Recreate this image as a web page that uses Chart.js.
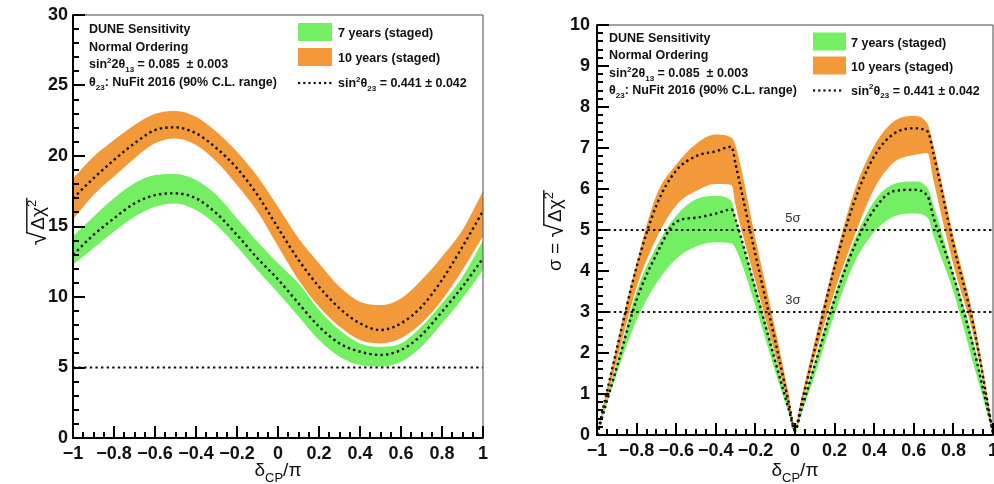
<!DOCTYPE html>
<html>
<head>
<meta charset="utf-8">
<script src="https://cdn.jsdelivr.net/npm/chart.js@4.4.0/dist/chart.umd.min.js"></script>
<style>
  html, body { margin: 0; padding: 0; background: #fff; }
  #wrap { position: relative; width: 994px; height: 484px; overflow: hidden; }
  canvas { position: absolute; top: 0; }
</style>
</head>
<body>
<div id="wrap">
  <canvas id="left-chart" width="497" height="484" style="left:0"></canvas>
  <canvas id="right-chart" width="497" height="484" style="left:497px"></canvas>
</div>
<script>
const chartInstances = {};

const FONT = '"Liberation Sans", Arial, Helvetica, sans-serif';
const GREEN = '#74ee62';
const ORANGE = '#f29a3a';
const DOTS = '#111111';

// ---- left panel: sqrt(dchi2) vs deltaCP/pi ----
const deltaLeft = [-1, -0.9, -0.8, -0.7, -0.6, -0.5, -0.4, -0.3, -0.2, -0.1, 0, 0.1, 0.2, 0.3, 0.4, 0.5, 0.6, 0.7, 0.8, 0.9, 1];
const left10High = [18.4, 19.95, 21.13, 22.2, 23.0, 23.2, 22.79, 21.72, 20.3, 18.54, 16.4, 14.16, 12.39, 10.73, 9.67, 9.43, 9.9, 11.21, 12.86, 14.75, 17.5];
const left10Mid  = [17.0, 18.42, 19.72, 20.9, 21.84, 22.03, 21.61, 20.55, 19.13, 17.23, 14.9, 12.63, 10.73, 9.2, 8.13, 7.66, 8.13, 9.31, 11.21, 13.57, 16.1];
const left10Low  = [15.5, 17.23, 18.54, 19.83, 20.9, 21.25, 20.78, 19.6, 17.94, 16.05, 13.6, 11.21, 9.31, 7.9, 6.95, 6.71, 7.07, 8.13, 9.79, 11.91, 14.3];
const left7High  = [14.3, 15.7, 17.0, 18.06, 18.65, 18.72, 18.3, 17.23, 15.58, 13.92, 12.4, 10.97, 9.08, 7.66, 6.71, 6.48, 6.71, 7.9, 9.55, 11.44, 14.0];
const left7Mid   = [13.0, 14.4, 15.58, 16.64, 17.23, 17.35, 17.0, 15.93, 14.4, 12.75, 11.25, 9.55, 7.9, 6.71, 6.12, 5.89, 6.24, 7.3, 8.96, 10.73, 12.74];
const left7Low   = [12.3, 13.46, 14.64, 15.7, 16.4, 16.64, 16.17, 15.1, 13.56, 11.9, 10.3, 8.61, 6.95, 5.77, 5.17, 5.06, 5.41, 6.48, 8.13, 9.9, 11.91];
const leftRefLines = [5];
const leftYTicks = [0, 5, 10, 15, 20, 25, 30];

// ---- right panel: sigma vs deltaCP/pi ----
const deltaRight = [-1, -0.9, -0.8, -0.7, -0.6, -0.5, -0.4, -0.32, -0.3, -0.2, -0.1, -0.03, 0, 0.03, 0.1, 0.2, 0.3, 0.4, 0.5, 0.6, 0.67, 0.7, 0.8, 0.9, 1];
const right10High = [0, 2.2, 4.2, 5.85, 6.6, 7.1, 7.33, 7.25, 7.05, 4.8, 2.6, 0.95, 0.2, 0.85, 2.3, 4.25, 5.95, 7.05, 7.65, 7.78, 7.58, 7.05, 4.85, 2.9, 0.15];
const right10Mid  = [0, 2.1, 4.1, 5.6, 6.45, 6.8, 6.92, 7.03, 6.6, 4.4, 2.3, 0.75, 0.12, 0.72, 2.1, 4.1, 5.7, 6.8, 7.35, 7.48, 7.4, 6.85, 4.65, 2.7, 0.05];
const right10Low  = [0, 1.8, 3.6, 4.8, 5.6, 5.95, 6.12, 6.1, 5.6, 3.75, 1.95, 0.65, 0.1, 0.65, 1.9, 3.5, 4.85, 6.0, 6.65, 6.83, 6.87, 6.2, 4.15, 2.45, 0.05];
const right7High  = [0, 1.75, 3.5, 4.6, 5.35, 5.75, 5.83, 5.7, 5.3, 3.65, 1.9, 0.65, 0.1, 0.62, 1.8, 3.4, 4.75, 5.7, 6.12, 6.18, 6.02, 5.6, 3.95, 2.3, 0.05];
const right7Mid   = [0, 1.65, 3.3, 4.4, 5.2, 5.3, 5.4, 5.5, 5.25, 3.55, 1.8, 0.6, 0.1, 0.58, 1.7, 3.3, 4.6, 5.5, 5.95, 5.98, 5.82, 5.3, 3.88, 2.15, 0.05];
const right7Low   = [0, 1.5, 2.8, 3.7, 4.3, 4.6, 4.7, 4.67, 4.55, 3.15, 1.55, 0.5, 0.05, 0.48, 1.45, 2.95, 4.2, 4.95, 5.33, 5.4, 5.3, 4.85, 3.5, 1.75, 0.03];
const rightRefLines = [3, 5];
const rightRefLabels = ['3\u03c3', '5\u03c3'];
const rightYTicks = [0, 1, 2, 3, 4, 5, 6, 7, 8, 9, 10];

const xTicks = [-1, -0.8, -0.6, -0.4, -0.2, 0, 0.2, 0.4, 0.6, 0.8, 1];

const legendLabels = ['7 years (staged)', '10 years (staged)'];
const infoLines = [
  [['DUNE Sensitivity']],
  [['Normal Ordering']],
  [['sin'], ['2', 'sup'], ['2\u03b8'], ['13', 'sub'], [' = 0.085  \u00b1 0.003']],
  [['\u03b8'], ['23', 'sub'], [': NuFit 2016 (90% C.L. range)']],
];
const dotLegend = [['sin'], ['2', 'sup'], ['\u03b8'], ['23', 'sub'], [' = 0.441 \u00b1 0.042']];

function fmtTick(v) {
  const r = Math.round(v * 100) / 100;
  if (r === 0) return '0';
  return (r < 0 ? '\u2212' : '') + String(Math.abs(r));
}

function pts(xs, ys) {
  return xs.map((x, i) => ({ x: x, y: ys[i] }));
}

// draw text made of [text, 'sup'|'sub'|undefined] pieces, returns end x
function drawRich(ctx, x, y, segs, size, weight, measureOnly) {
  let cx = x;
  for (const [t, mode] of segs) {
    const s = mode ? Math.round(size * 0.66) : size;
    ctx.font = `${weight} ${s}px ${FONT}`;
    const dy = mode === 'sup' ? -size * 0.42 : mode === 'sub' ? size * 0.3 : 0;
    if (!measureOnly) ctx.fillText(t, cx, y + dy);
    cx += ctx.measureText(t).width;
  }
  return cx;
}

// y title with a square root over delta chi^2, drawn rotated
function drawSqrtTitle(ctx, bx, cy, prefix, size) {
  ctx.save();
  ctx.translate(bx, cy);
  ctx.rotate(-Math.PI / 2);
  ctx.textAlign = 'left';
  ctx.textBaseline = 'alphabetic';
  const body = [['\u0394\u03c7'], ['2', 'sup']];
  ctx.font = `${size}px ${FONT}`;
  const wPre = prefix ? ctx.measureText(prefix).width : 0;
  ctx.font = `${size * 1.3}px ${FONT}`;
  const wRoot = ctx.measureText('\u221a').width;
  const wBody = drawRich(ctx, 0, 0, body, size, 'normal', true) + 3;
  let x0 = -(wPre + wRoot + wBody) / 2;
  if (prefix) {
    ctx.font = `${size}px ${FONT}`;
    ctx.fillText(prefix, x0, 0);
    x0 += wPre;
  }
  ctx.font = `${size * 1.3}px ${FONT}`;
  const m = ctx.measureText('\u221a');
  ctx.fillText('\u221a', x0, 2);
  const top = -m.actualBoundingBoxAscent + 2.8;
  ctx.fillStyle = '#111';
  ctx.fillRect(x0 + wRoot - 1.5, top - 0.7, wBody + 2.5, 1.4);
  drawRich(ctx, x0 + wRoot + 2, 0, body, size, 'normal');
  ctx.restore();
}

function drawXTitle(ctx, cx, by, size) {
  const segs = [['\u03b4'], ['CP', 'sub'], ['/\u03c0']];
  const w = drawRich(ctx, 0, 0, segs, size, 'normal', true);
  drawRich(ctx, cx - w / 2, by, segs, size, 'normal');
}

// ROOT-like frame, inward ticks, legend and titles
function makeFramePlugin(opts) {
  return {
    id: 'rootFrame',
    afterDraw(chart) {
      const ctx = chart.ctx;
      const a = chart.chartArea;
      const xs = chart.scales.x, ys = chart.scales.y;
      ctx.save();

      // thin top / right frame
      ctx.fillStyle = '#666';
      ctx.fillRect(a.left, a.top - 0.6, a.right - a.left, 1.2);
      ctx.fillRect(a.right - 0.6, a.top, 1.2, a.bottom - a.top);

      // inward ticks: minor every xMinor/yMinor, long ones on labelled values
      ctx.fillStyle = '#000';
      const nx = Math.round((xs.max - xs.min) / opts.xMinor);
      const xEvery = Math.round(opts.xMajor / opts.xMinor);
      for (let i = 0; i <= nx; i++) {
        const px = Math.round(xs.getPixelForValue(xs.min + i * opts.xMinor));
        const len = i % xEvery === 0 ? 12 : 6;
        ctx.fillRect(px - 1, a.bottom - len, 2, len);
      }
      const ny = Math.round((ys.max - ys.min) / opts.yMinor);
      const yEvery = Math.round(opts.yMajor / opts.yMinor);
      for (let i = 0; i <= ny; i++) {
        const py = Math.round(ys.getPixelForValue(ys.min + i * opts.yMinor));
        const len = i % yEvery === 0 ? 12 : 6;
        ctx.fillRect(a.left, py - 1, len, 2);
      }

      // axis lines
      ctx.fillRect(a.left - 1, a.top - 0.6, 2, a.bottom - a.top + 1.6);
      ctx.fillRect(a.left - 1, a.bottom - 1, a.right - a.left + 1.6, 2);

      ctx.fillStyle = '#111';
      ctx.textAlign = 'left';
      ctx.textBaseline = 'alphabetic';

      const info = opts.info;
      infoLines.forEach((segs, i) => {
        drawRich(ctx, info.x, info.y + i * info.dy, segs, 12.5, 'bold');
      });

      const lg = opts.legend;
      [GREEN, ORANGE].forEach((col, i) => {
        const cy = lg.y + i * lg.dy;
        ctx.fillStyle = col;
        ctx.fillRect(lg.x, cy - 9, lg.w, 18);
        ctx.fillStyle = '#111';
        ctx.font = `bold 12.5px ${FONT}`;
        ctx.fillText(legendLabels[i], lg.tx, cy + 5);
      });
      const dy3 = lg.y + 2 * lg.dy + 1;
      ctx.fillStyle = DOTS;
      for (let d = 0; d + 2.2 <= lg.w; d += 5.2) {
        ctx.fillRect(lg.x + d, dy3 - 1.1, 2.2, 2.2);
      }
      drawRich(ctx, lg.tx, dy3 + 4, dotLegend, 12.5, 'bold');

      if (opts.refLabels) {
        ctx.fillStyle = '#333';
        ctx.textAlign = 'center';
        ctx.font = `13px ${FONT}`;
        opts.refLabels.forEach(([val, txt]) => {
          ctx.fillText(txt, xs.getPixelForValue(0) - 2, ys.getPixelForValue(val) - 8);
        });
        ctx.textAlign = 'left';
      }

      ctx.fillStyle = '#111';
      drawXTitle(ctx, (a.left + a.right) / 2, 476, 19);
      drawSqrtTitle(ctx, opts.yTitleX, opts.yTitleY, opts.yTitlePrefix, 19);

      ctx.restore();
    }
  };
}

function showPanel(id, cfg) {
  const canvas = document.getElementById(id);
  const ctx = canvas.getContext('2d');
  if (chartInstances[id]) chartInstances[id].destroy();

  const dotted = {
    borderColor: DOTS, borderWidth: 2.4, borderDash: [2.4, 3.2], borderCapStyle: 'butt',
    pointRadius: 0, fill: false,
  };
  const datasets = [
    { label: '10 yr central', data: pts(cfg.xs, cfg.mid10), ...dotted, order: 0 },
    { label: '7 yr central', data: pts(cfg.xs, cfg.mid7), ...dotted, order: 0 },
  ];
  cfg.refLines.forEach((v) => {
    datasets.push({ label: 'ref ' + v, data: [{ x: -1, y: v }, { x: 1, y: v }], ...dotted, borderWidth: 2.2, order: 1 });
  });
  const g = datasets.length;
  datasets.push(
    { label: '7 yr low', data: pts(cfg.xs, cfg.low7), borderWidth: 0, pointRadius: 0, fill: false, order: 2 },
    { label: '7 yr high', data: pts(cfg.xs, cfg.high7), borderWidth: 0, pointRadius: 0, fill: g, backgroundColor: GREEN, order: 2 },
    { label: '10 yr low', data: pts(cfg.xs, cfg.low10), borderWidth: 0, pointRadius: 0, fill: false, order: 3 },
    { label: '10 yr high', data: pts(cfg.xs, cfg.high10), borderWidth: 0, pointRadius: 0, fill: g + 2, backgroundColor: ORANGE, order: 3 }
  );

  const tickFont = { family: FONT, size: 18, weight: 'bold' };
  const yMin = cfg.yTicks[0], yMax = cfg.yTicks[cfg.yTicks.length - 1];

  chartInstances[id] = new Chart(ctx, {
    type: 'line',
    data: { datasets },
    options: {
      responsive: false,
      animation: false,
      parsing: false,
      layout: { padding: cfg.padding },
      elements: {
        line: { cubicInterpolationMode: 'monotone' },
      },
      plugins: {
        legend: { display: false },
        tooltip: { enabled: false },
      },
      scales: {
        x: {
          type: 'linear', min: -1, max: 1,
          afterBuildTicks: (s) => { s.ticks = xTicks.map((v) => ({ value: v })); },
          afterFit: (s) => { s.height = cfg.xHeight; s.paddingLeft = 0; s.paddingRight = 0; },
          grid: { display: false, drawTicks: false },
          border: { display: false },
          ticks: { padding: 5, maxRotation: 0, autoSkip: false, font: tickFont, color: '#111', callback: fmtTick },
        },
        y: {
          type: 'linear', min: yMin, max: yMax,
          afterBuildTicks: (s) => { s.ticks = cfg.yTicks.map((v) => ({ value: v })); },
          afterFit: (s) => { s.width = cfg.yWidth; s.paddingTop = 0; s.paddingBottom = 0; },
          grid: { display: false, drawTicks: false },
          border: { display: false },
          ticks: { padding: cfg.yPad, font: tickFont, color: '#111', callback: fmtTick },
        },
      },
    },
    plugins: [makeFramePlugin(cfg.frame)],
  });
}

showPanel('left-chart', {
  xs: deltaLeft,
  high10: left10High, mid10: left10Mid, low10: left10Low,
  high7: left7High, mid7: left7Mid, low7: left7Low,
  refLines: leftRefLines, yTicks: leftYTicks,
  padding: { top: 15, right: 14, left: 0, bottom: 0 },
  yWidth: 73, xHeight: 46, yPad: 5,
  frame: {
    xMajor: 0.2, xMinor: 0.05, yMajor: 5, yMinor: 1,
    info: { x: 89, y: 33, dy: 17.7 },
    legend: { x: 298, w: 34, y: 32, dy: 25, tx: 338 },
    yTitleX: 44, yTitleY: 222, yTitlePrefix: '',
  },
});

showPanel('right-chart', {
  xs: deltaRight,
  high10: right10High, mid10: right10Mid, low10: right10Low,
  high7: right7High, mid7: right7Mid, low7: right7Low,
  refLines: rightRefLines, yTicks: rightYTicks,
  padding: { top: 25, right: 1, left: 0, bottom: 0 },
  yWidth: 100, xHeight: 49, yPad: 7,
  frame: {
    xMajor: 0.2, xMinor: 0.05, yMajor: 1, yMinor: 0.2,
    info: { x: 112, y: 42, dy: 17.4 },
    legend: { x: 316, w: 33, y: 41.5, dy: 24, tx: 354 },
    refLabels: rightRefLines.map((v, i) => [v, rightRefLabels[i]]),
    yTitleX: 64, yTitleY: 231, yTitlePrefix: '\u03c3 = ',
  },
});
</script>
</body>
</html>
